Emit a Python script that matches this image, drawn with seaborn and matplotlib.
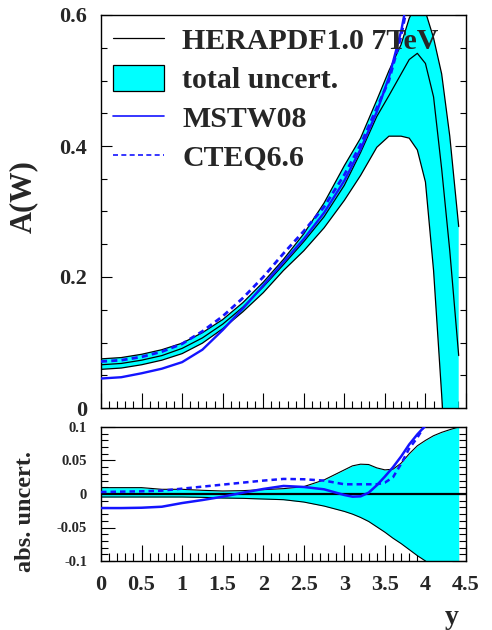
import numpy as np
import pandas as pd
import matplotlib
matplotlib.use("Agg")
import matplotlib.pyplot as plt
import seaborn as sns
from matplotlib.lines import Line2D
from matplotlib.patches import Patch
from matplotlib.ticker import MultipleLocator, FuncFormatter

# ---------------- data ----------------
# upper panel: W asymmetry vs rapidity
y_top = [0, 0.25, 0.5, 0.75, 1.0, 1.25, 1.5, 1.75, 2.0, 2.25, 2.5, 2.75, 3.0,
         3.2, 3.4, 3.55, 3.7, 3.8, 3.9, 4.0, 4.1, 4.2, 4.3, 4.41]
hera_central = [0.066, 0.068, 0.073, 0.080, 0.091, 0.107, 0.128, 0.154, 0.185,
                0.219, 0.254, 0.292, 0.340, 0.390, 0.445, 0.477, 0.510, 0.532,
                0.5415, 0.526, 0.475, 0.365, 0.240, 0.080]
hera_upper = [0.075, 0.077, 0.082, 0.089, 0.099, 0.115, 0.135, 0.161, 0.192,
              0.227, 0.266, 0.313, 0.370, 0.412, 0.470, 0.515, 0.555, 0.595,
              0.620, 0.605, 0.565, 0.510, 0.415, 0.277]
hera_lower = [0.059, 0.061, 0.066, 0.073, 0.083, 0.099, 0.121, 0.147, 0.176,
              0.210, 0.240, 0.275, 0.317, 0.355, 0.398, 0.415, 0.415, 0.412,
              0.394, 0.345, 0.210, 0.020, -0.19, -0.42]
y_model_top = [0, 0.25, 0.5, 0.75, 1.0, 1.25, 1.5, 1.75, 2.0, 2.25, 2.5, 2.75,
               3.0, 3.2, 3.4, 3.55, 3.7, 3.8]
mstw_top = [0.045, 0.047, 0.053, 0.060, 0.070, 0.089, 0.119, 0.152, 0.187,
            0.223, 0.258, 0.298, 0.347, 0.395, 0.452, 0.505, 0.575, 0.64]
cteq_top = [0.071, 0.073, 0.078, 0.086, 0.098, 0.117, 0.140, 0.168, 0.200,
            0.236, 0.270, 0.307, 0.356, 0.402, 0.458, 0.500, 0.568, 0.63]

# lower panel: absolute uncertainty / differences to HERAPDF central
y_low = [0, 0.25, 0.5, 0.75, 1.0, 1.25, 1.5, 1.75, 2.0, 2.25, 2.5, 2.75, 3.0,
         3.1, 3.2, 3.3, 3.4, 3.5, 3.6, 3.7, 3.8, 3.9, 4.0, 4.1, 4.2, 4.3, 4.41]
unc_upper = [0.0095, 0.0095, 0.0095, 0.007, 0.007, 0.0055, 0.0045, 0.005,
             0.0065, 0.008, 0.011, 0.021, 0.036, 0.042, 0.0445, 0.044, 0.039,
             0.036, 0.037, 0.046, 0.060, 0.072, 0.080, 0.087, 0.092, 0.096, 0.100]
unc_lower = [-0.0045, -0.0045, -0.0045, -0.0045, -0.0045, -0.005, -0.006,
             -0.0065, -0.0075, -0.0085, -0.012, -0.018, -0.026, -0.030, -0.035,
             -0.041, -0.049, -0.057, -0.066, -0.074, -0.083, -0.092, -0.100,
             -0.11, -0.12, -0.13, -0.14]
y_model_low = [0, 0.25, 0.5, 0.75, 1.0, 1.25, 1.5, 1.75, 2.0, 2.25, 2.5, 2.75,
               3.0, 3.1, 3.2, 3.3, 3.4, 3.5, 3.6, 3.7, 3.8, 3.9, 4.0]
mstw_diff = [-0.021, -0.021, -0.0205, -0.019, -0.0135, -0.009, -0.004, 0.002,
             0.0075, 0.012, 0.0105, 0.007, -0.0015, -0.004, -0.0035, 0.002,
             0.013, 0.026, 0.040, 0.056, 0.074, 0.089, 0.102]
cteq_diff = [0.003, 0.0035, 0.004, 0.005, 0.008, 0.011, 0.014, 0.017, 0.020,
             0.0225, 0.022, 0.020, 0.0145, 0.0145, 0.0145, 0.0145, 0.0145,
             0.017, 0.025, 0.045, 0.068, 0.084, 0.104]

legend_labels = ["HERAPDF1.0 7TeV", "total uncert.", "MSTW08", "CTEQ6.6"]

# ---------------- style ----------------
sns.set_style("ticks")
plt.rcParams["font.family"] = ["Liberation Serif", "DejaVu Serif"]
plt.rcParams["font.weight"] = "bold"
plt.rcParams["axes.linewidth"] = 1.0

CYAN = "#00ffff"
BLUE = "#1414ff"

fig = plt.figure(figsize=(4.92, 6.3), dpi=100)
W, H = 492.0, 630.0
ax1 = fig.add_axes([101 / W, 1 - 408 / H, 365 / W, 393 / H])
ax2 = fig.add_axes([101 / W, 1 - 561 / H, 365 / W, 134 / H])

# ---------------- upper panel ----------------
ax1.fill_between(y_top, hera_lower, hera_upper, color=CYAN, lw=0, zorder=1)
for arr in (hera_upper, hera_lower, hera_central):
    sns.lineplot(x=y_top, y=arr, ax=ax1, color="black", lw=0.9,
                 estimator=None, sort=False, zorder=2)
sns.lineplot(x=y_model_top, y=mstw_top, ax=ax1, color=BLUE, lw=1.7,
             estimator=None, sort=False, zorder=4)
sns.lineplot(x=y_model_top, y=cteq_top, ax=ax1, color=BLUE, lw=2.0,
             linestyle=(0, (2.2, 1.5)), estimator=None, sort=False, zorder=4)

ax1.set_xlim(0, 4.5)
ax1.set_ylim(0, 0.6)
ax1.xaxis.set_major_locator(MultipleLocator(0.5))
ax1.xaxis.set_minor_locator(MultipleLocator(0.1))
ax1.yaxis.set_major_locator(MultipleLocator(0.2))
ax1.yaxis.set_minor_locator(MultipleLocator(0.05))
fmt = FuncFormatter(lambda v, p: "0" if abs(v) < 1e-9 else f"{v:g}")
ax1.yaxis.set_major_formatter(fmt)
ax1.tick_params(axis="both", which="both", direction="in", top=False,
                right=True, left=True, bottom=True, width=0.8, color="black")
ax1.tick_params(axis="y", which="major", length=8, labelsize=16, pad=10)
ax1.tick_params(axis="y", which="minor", length=4.5)
ax1.tick_params(axis="x", which="major", length=11, labelbottom=False)
ax1.tick_params(axis="x", which="minor", length=5)
ax1.set_xlabel("")
ax1.set_ylabel("A(W)", fontsize=22, fontweight="bold")
ax1.yaxis.set_label_coords(-0.173, 0.539)
for s in ax1.spines.values():
    s.set_color("black")
    s.set_linewidth(1.0)

handles = [
    Line2D([], [], color="black", lw=0.9),
    Patch(facecolor=CYAN, edgecolor="black", lw=0.9),
    Line2D([], [], color=BLUE, lw=1.2),
    Line2D([], [], color=BLUE, lw=1.2, linestyle=(0, (3, 2))),
]
leg = ax1.legend(handles, legend_labels, loc="upper left",
                 bbox_to_anchor=(0.033, 0.972), frameon=False,
                 prop={"family": "Liberation Serif", "weight": "bold", "size": 21.5},
                 handlelength=1.7, handleheight=0.95, handletextpad=0.62,
                 labelspacing=0.33, borderpad=0, borderaxespad=0)
leg.set_zorder(10)

# ---------------- lower panel ----------------
ax2.fill_between(y_low, unc_lower, unc_upper, color=CYAN, lw=0, zorder=1)
for arr in (unc_upper, unc_lower):
    sns.lineplot(x=y_low, y=arr, ax=ax2, color="black", lw=0.8,
                 estimator=None, sort=False, zorder=2)
ax2.axhline(0, color="black", lw=1.6, zorder=3)
sns.lineplot(x=y_model_low, y=mstw_diff, ax=ax2, color=BLUE, lw=1.8,
             estimator=None, sort=False, zorder=4)
sns.lineplot(x=y_model_low, y=cteq_diff, ax=ax2, color=BLUE, lw=1.8,
             linestyle=(0, (2.2, 1.6)), estimator=None, sort=False, zorder=4)

ax2.set_xlim(0, 4.5)
ax2.set_ylim(-0.1, 0.1)
ax2.xaxis.set_major_locator(MultipleLocator(0.5))
ax2.xaxis.set_minor_locator(MultipleLocator(0.1))
ax2.yaxis.set_major_locator(MultipleLocator(0.05))
ax2.yaxis.set_minor_locator(MultipleLocator(0.01))
ax2.xaxis.set_major_formatter(fmt)
ax2.yaxis.set_major_formatter(fmt)
ax2.tick_params(axis="both", which="both", direction="in", top=False,
                right=True, left=True, bottom=True, width=0.8, color="black")
ax2.tick_params(axis="y", which="major", length=10, labelsize=10.5, pad=10)
ax2.tick_params(axis="y", which="minor", length=5)
ax2.tick_params(axis="x", which="major", length=11.5, labelsize=16, pad=10)
ax2.tick_params(axis="x", which="minor", length=5.8)
ax2.set_ylabel("abs. uncert.", fontsize=17.5, fontweight="bold")
ax2.yaxis.set_label_coords(-0.178, 0.366)
ax2.set_xlabel("y", fontsize=20, fontweight="bold")
ax2.xaxis.set_label_coords(0.9616, -0.33)
for s in ax2.spines.values():
    s.set_color("black")
    s.set_linewidth(1.0)

fig.savefig("out.png", dpi=100)
